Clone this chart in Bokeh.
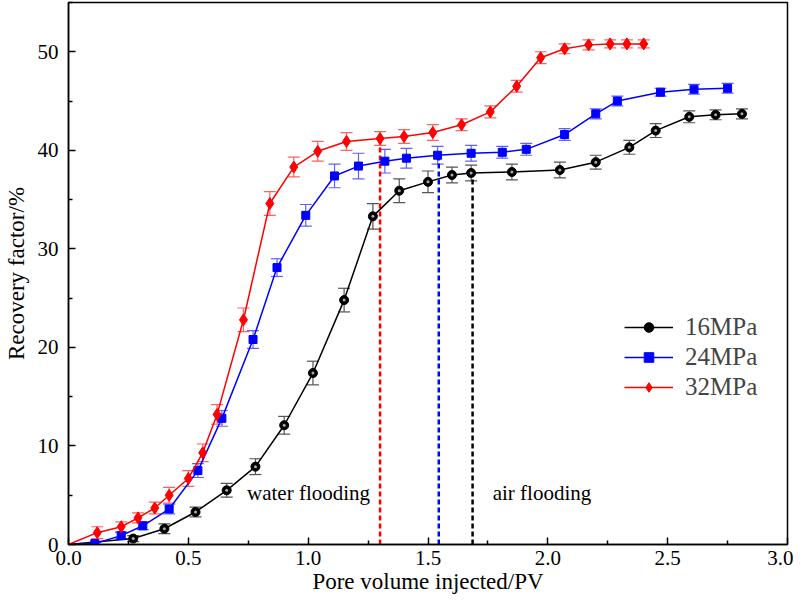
from bokeh.plotting import figure
from bokeh.models import ColumnDataSource, Whisker, TeeHead, Legend, LegendItem, Label, FixedTicker, Range1d
from bokeh.embed import file_html
from bokeh.resources import INLINE

# ---- data ----
pv_16 = [0, 0.27, 0.40, 0.53, 0.66, 0.78, 0.90, 1.02, 1.15, 1.27, 1.38, 1.50, 1.60, 1.68, 1.85, 2.05, 2.20, 2.34, 2.45, 2.59, 2.70, 2.81]
rf_16 = [0, 0.6, 1.6, 3.3, 5.5, 7.9, 12.1, 17.4, 24.8, 33.3, 35.9, 36.8, 37.5, 37.7, 37.8, 38.0, 38.8, 40.3, 42.0, 43.4, 43.6, 43.7]
err_16 = [0, 0.3, 0.5, 0.5, 0.7, 0.8, 0.9, 1.2, 1.2, 1.3, 1.2, 1.1, 0.8, 0.8, 0.8, 0.8, 0.7, 0.7, 0.7, 0.6, 0.5, 0.5]

pv_24 = [0, 0.11, 0.22, 0.31, 0.42, 0.54, 0.64, 0.77, 0.87, 0.99, 1.11, 1.21, 1.32, 1.41, 1.54, 1.68, 1.81, 1.91, 2.07, 2.20, 2.29, 2.47, 2.61, 2.75]
rf_24 = [0, 0.1, 0.9, 1.9, 3.6, 7.5, 12.8, 20.8, 28.1, 33.4, 37.4, 38.4, 38.9, 39.2, 39.5, 39.7, 39.8, 40.1, 41.6, 43.7, 45.0, 45.9, 46.2, 46.3]
err_24 = [0, 0.1, 0.3, 0.4, 0.5, 0.7, 0.8, 0.9, 0.9, 1.1, 1.2, 1.3, 1.2, 1.0, 0.9, 0.8, 0.6, 0.6, 0.6, 0.5, 0.5, 0.4, 0.5, 0.5]

pv_32 = [0, 0.12, 0.22, 0.29, 0.36, 0.42, 0.50, 0.56, 0.62, 0.73, 0.84, 0.94, 1.04, 1.16, 1.30, 1.40, 1.52, 1.64, 1.76, 1.87, 1.97, 2.07, 2.17, 2.26, 2.33, 2.40]
rf_32 = [0, 1.2, 1.8, 2.7, 3.7, 5.0, 6.7, 9.3, 13.2, 22.8, 34.6, 38.3, 39.9, 40.9, 41.2, 41.4, 41.8, 42.6, 43.9, 46.5, 49.4, 50.3, 50.7, 50.8, 50.8, 50.8]
err_32 = [0, 0.6, 0.5, 0.5, 0.6, 0.8, 0.8, 0.9, 1.0, 1.2, 1.2, 1.0, 1.0, 0.9, 0.7, 0.7, 0.8, 0.6, 0.6, 0.6, 0.6, 0.5, 0.5, 0.4, 0.4, 0.4]

labels = ["16MPa", "24MPa", "32MPa"]
switch_pv = [1.686, 1.545, 1.30]   # water -> air flooding switch (16, 24, 32 MPa)
switch_rf = [37.7, 39.5, 41.2]

FONT = "Liberation Serif"

p = figure(width=793, height=598, output_backend="svg", toolbar_location=None,
           x_range=Range1d(0, 3.0), y_range=Range1d(0, 55),
           min_border_left=61, min_border_right=6, min_border_top=2, min_border_bottom=54)
p.grid.visible = False
p.outline_line_color = "black"
p.outline_line_width = 1.5
p.background_fill_color = "white"

for ax in (p.xaxis, p.yaxis):
    ax.axis_line_width = 1.5
    ax.major_tick_in = 7
    ax.major_tick_out = 0
    ax.minor_tick_in = 4
    ax.minor_tick_out = 0
    ax.major_tick_line_width = 1.5
    ax.minor_tick_line_width = 1.5
    ax.major_label_text_font = FONT
    ax.major_label_text_font_size = "21px"
    ax.major_label_text_color = "black"
    ax.axis_label_text_font = FONT
    ax.axis_label_text_font_size = "23px"
    ax.axis_label_text_font_style = "normal"
    ax.axis_label_text_color = "black"

p.xaxis.ticker = FixedTicker(ticks=[0, 0.5, 1.0, 1.5, 2.0, 2.5, 3.0], minor_ticks=[0.25, 0.75, 1.25, 1.75, 2.25, 2.75])
p.yaxis.ticker = FixedTicker(ticks=[0, 10, 20, 30, 40, 50], minor_ticks=[5, 15, 25, 35, 45, 55])
p.xaxis.major_label_overrides = {0: "0.0", 0.5: "0.5", 1.0: "1.0", 1.5: "1.5", 2.0: "2.0", 2.5: "2.5", 3.0: "3.0"}
p.xaxis.axis_label = "Pore volume injected/PV"
p.yaxis.axis_label = "Recovery factor/%"
p.xaxis.major_label_standoff = 6
p.yaxis.major_label_standoff = 10
p.xaxis.axis_label_standoff = 1
p.yaxis.axis_label_standoff = 6

# switch lines
dash_colors = ["black", "blue", "red"]
for xv, yv, c in zip(switch_pv, switch_rf, dash_colors):
    p.segment(x0=[xv], y0=[0], x1=[xv], y1=[yv], line_color=c, line_width=2.5, line_dash="5 3")

series = [
    (pv_16, rf_16, err_16, "black", "#555555", "circle", 9),
    (pv_24, rf_24, err_24, "blue", "#6060ff", "square", 8),
    (pv_32, rf_32, err_32, "red", "#ff6060", "diamond", 12),
]
items = []
for (xs, ys, es, col, ecol, mk, sz), lab in zip(series, labels):
    src = ColumnDataSource(dict(x=xs[1:], y=ys[1:],
                                upper=[a + b for a, b in zip(ys[1:], es[1:])],
                                lower=[a - b for a, b in zip(ys[1:], es[1:])]))
    w = Whisker(source=src, base="x", upper="upper", lower="lower", dimension="height",
                line_color=ecol, line_width=1.2,
                upper_head=TeeHead(size=12, line_color=ecol, line_width=1.2),
                lower_head=TeeHead(size=12, line_color=ecol, line_width=1.2))
    p.add_layout(w)
    ln = p.line(xs, ys, line_color=col, line_width=1.5)
    sc = p.scatter("x", "y", source=src, marker=mk, size=sz, fill_color=col, line_color=col)
    if mk == "circle":
        p.scatter("x", "y", source=src, marker="circle", size=3, fill_color="#aaaaaa", line_color=None)
    items.append(LegendItem(label=lab, renderers=[ln, sc]))

legend = Legend(items=items, location=(556, 143), border_line_color=None, background_fill_alpha=0,
                label_text_font=FONT, label_text_font_size="25px", glyph_width=49, glyph_height=24,
                label_height=26, spacing=2, label_standoff=12, padding=4, margin=0)
p.add_layout(legend, "center")

p.add_layout(Label(x=0.745, y=4.0, text="water flooding", text_font=FONT, text_font_size="21px", text_color="black"))
p.add_layout(Label(x=1.77, y=4.0, text="air flooding", text_font=FONT, text_font_size="21px", text_color="black"))

open("out.html", "w").write(file_html(p, INLINE))
